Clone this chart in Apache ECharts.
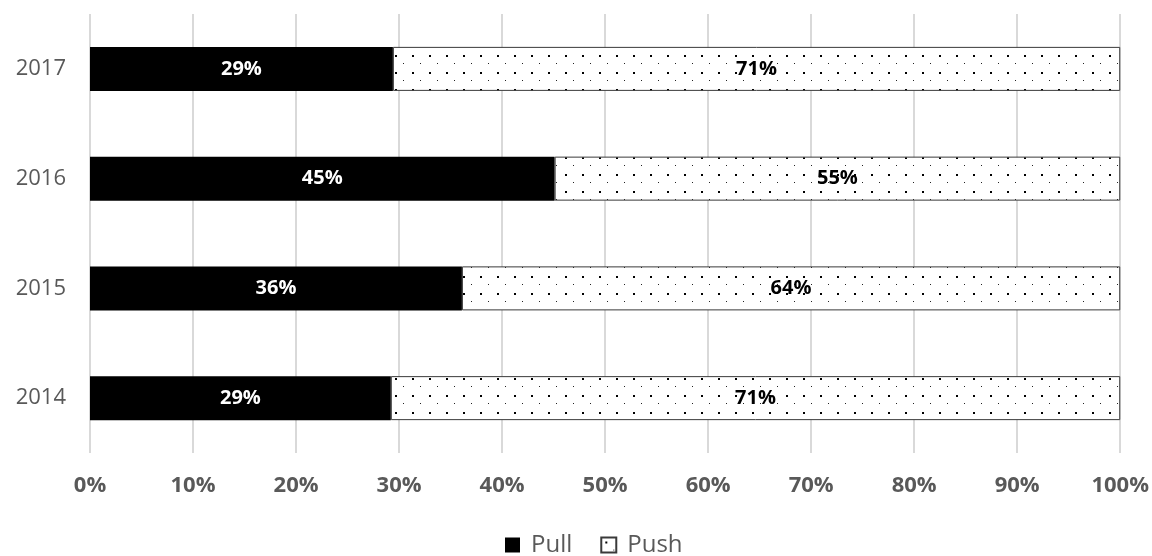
<!DOCTYPE html>
<html>
<head>
<meta charset="utf-8">
<script src="https://cdn.jsdelivr.net/npm/echarts@6/dist/echarts.min.js"></script>
<style>
  html, body { margin: 0; padding: 0; background: #fff; }
  #chart { width: 1152px; height: 556px; }
</style>
</head>
<body>
<div id="chart"></div>
<script>
// data
const years = ['2014', '2015', '2016', '2017'];
const pullValues = [29.2, 36.1, 45.1, 29.4];
const pushValues = [70.8, 63.9, 54.9, 70.6];
const tickLabels = ['0%', '10%', '20%', '30%', '40%', '50%', '60%', '70%', '80%', '90%', '100%'];

// dotted fill for Push
const makeDots = () => {
  const c = document.createElement('canvas');
  c.width = 17;
  c.height = 17;
  const ctx = c.getContext('2d');
  ctx.fillStyle = '#fff';
  ctx.fillRect(0, 0, 17, 17);
  ctx.fillStyle = '#000';
  ctx.fillRect(4, 4, 2, 2);
  ctx.fillStyle = '#222';
  ctx.fillRect(12, 12, 1, 1);
  return c;
};

const chart = echarts.init(document.getElementById('chart'));
const grey = '#595959';
const font = '"Open Sans", sans-serif';

chart.setOption({
  animation: false,
  grid: { left: 90, right: 30, top: 14, bottom: 103 },
  legend: {
    top: 528,
    left: 500,
    icon: 'rect',
    itemWidth: 15,
    itemHeight: 15,
    itemGap: 28,
    textStyle: { color: grey, fontSize: 24, fontFamily: font, padding: [0, 0, 0, 6] },
    data: ['Pull', 'Push']
  },
  xAxis: {
    type: 'value',
    min: 0,
    max: 100,
    interval: 10,
    axisLine: { show: false },
    axisTick: { show: false },
    splitLine: { lineStyle: { color: '#d9d9d9', width: 2 } },
    axisLabel: {
      color: grey,
      fontSize: 22,
      fontWeight: 'bold',
      fontFamily: font,
      margin: 22,
      formatter: (v) => tickLabels[Math.round(v / 10)]
    }
  },
  yAxis: {
    type: 'category',
    data: years,
    axisLine: { show: false },
    axisTick: { show: false },
    axisLabel: { color: grey, fontSize: 22, fontFamily: font, margin: 24 }
  },
  series: [
    {
      name: 'Pull',
      type: 'bar',
      stack: 'total',
      barWidth: 44,
      data: pullValues,
      itemStyle: { color: '#000' },
      label: {
        show: true,
        position: 'inside',
        color: '#fff',
        fontSize: 20,
        fontWeight: 'bold',
        fontFamily: font,
        formatter: (p) => Math.round(p.value) + '%'
      }
    },
    {
      name: 'Push',
      type: 'bar',
      stack: 'total',
      barWidth: 44,
      data: pushValues,
      itemStyle: {
        color: { image: makeDots(), repeat: 'repeat' },
        borderColor: '#3a3a3a',
        borderWidth: 1
      },
      label: {
        show: true,
        position: 'inside',
        color: '#000',
        fontSize: 20,
        fontWeight: 'bold',
        fontFamily: font,
        formatter: (p) => Math.round(p.value) + '%'
      }
    }
  ]
});
</script>
</body>
</html>
